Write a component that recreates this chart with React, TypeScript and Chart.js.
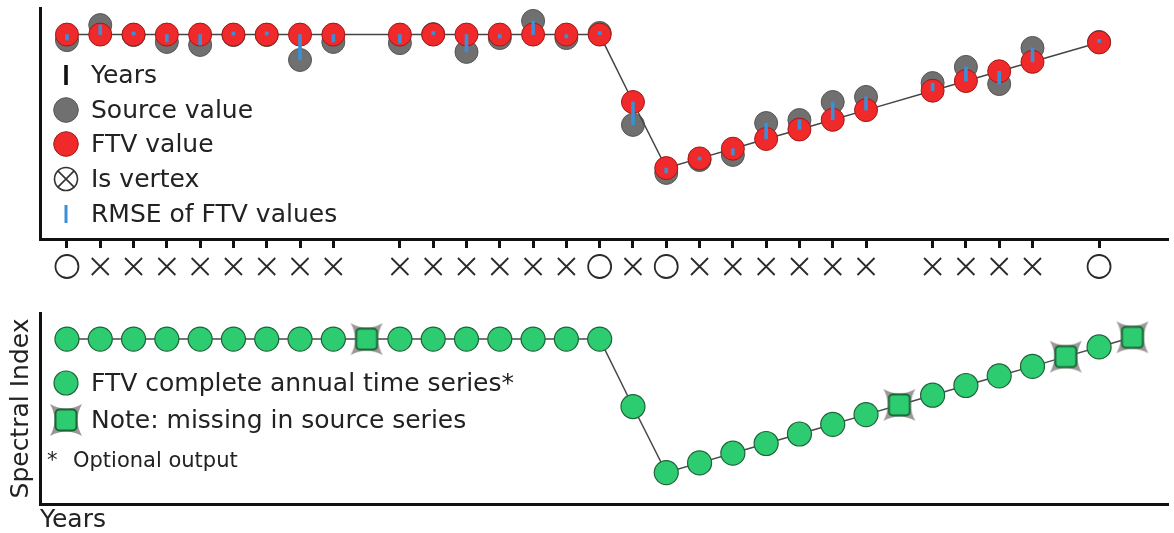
import React, { useEffect, useRef } from "react";
import { Chart, registerables } from "chart.js";

Chart.register(...registerables);

// ---------- data ----------
const years = [
  1984, 1985, 1986, 1987, 1988, 1989, 1990, 1991, 1992, 1993, 1994,
  1995, 1996, 1997, 1998, 1999, 2000, 2001, 2002, 2003, 2004, 2005,
  2006, 2007, 2008, 2009, 2010, 2011, 2012, 2013, 2014, 2015, 2016,
];

// Source (observed) spectral index values; null = missing in source series
const sourceValues: (number | null)[] = [
  0.861, 0.926, 0.883, 0.853, 0.84, 0.883, 0.883, 0.775, 0.853, null, 0.848,
  0.887, 0.81, 0.87, 0.944, 0.87, 0.892, 0.494, 0.286, 0.342, 0.364, 0.502,
  0.515, 0.593, 0.615, null, 0.675, 0.745, 0.671, 0.827, null, 0.853, null,
];

// Fitted-to-vertex (FTV) values, complete annual series
const ftvValues = [
  0.885, 0.885, 0.885, 0.885, 0.885, 0.885, 0.885, 0.885, 0.885, 0.885, 0.885,
  0.885, 0.885, 0.885, 0.885, 0.885, 0.885, 0.593, 0.307, 0.349, 0.391, 0.433,
  0.474, 0.516, 0.558, 0.6, 0.642, 0.684, 0.726, 0.767, 0.809, 0.851, 0.893,
];

const vertexYears = [1984, 2000, 2002, 2015];

const X_MIN = 1983.19;
const X_MAX = 2017.07;
const TOP_Y_MIN = 0;
const TOP_Y_MAX = 1;
const BOT_Y_MIN = 0.171;
const BOT_Y_MAX = 0.998;

const FONT = "'DejaVu Sans', Verdana, sans-serif";
const RED = "#f02a2a";
const RED_EDGE = "#a01818";
const GRAY = "#707070";
const GRAY_EDGE = "#555555";
const BLUE = "#3a8fd6";
const GREEN = "#2ecc71";
const GREEN_EDGE = "#1d6438";
const AXIS = "#111111";
const TEXT = "#222222";

const sourceYears = years.filter((_, i) => sourceValues[i] !== null);

// ---------- marker helpers ----------
function makeMissingMarker(): HTMLCanvasElement {
  const c = document.createElement("canvas");
  c.width = 36;
  c.height = 36;
  const g = c.getContext("2d") as CanvasRenderingContext2D;
  const m = 18;
  g.fillStyle = "rgba(140,132,132,0.85)";
  g.beginPath();
  g.moveTo(m - 16, m - 16);
  g.quadraticCurveTo(m, m - 7, m + 16, m - 16);
  g.quadraticCurveTo(m + 7, m, m + 16, m + 16);
  g.quadraticCurveTo(m, m + 7, m - 16, m + 16);
  g.quadraticCurveTo(m - 7, m, m - 16, m - 16);
  g.closePath();
  g.fill();
  g.fillStyle = GREEN;
  g.strokeStyle = GREEN_EDGE;
  g.lineWidth = 2;
  g.beginPath();
  if ((g as any).roundRect) (g as any).roundRect(m - 10.5, m - 10.5, 21, 21, 4);
  else g.rect(m - 10.5, m - 10.5, 21, 21);
  g.fill();
  g.stroke();
  return c;
}

const vertexMarkerPlugin = {
  id: "vertexMarkers",
  afterDraw(chart: any) {
    const xs = chart.scales.x;
    const ctx: CanvasRenderingContext2D = chart.ctx;
    const y = chart.chartArea.bottom + 27.5;
    ctx.save();
    ctx.strokeStyle = "#2a2a2a";
    ctx.lineWidth = 1.8;
    years.forEach((yr, i) => {
      if (sourceValues[i] === null) return;
      const x = xs.getPixelForValue(yr);
      ctx.beginPath();
      if (vertexYears.includes(yr)) {
        ctx.arc(x, y, 11.5, 0, Math.PI * 2);
      } else {
        const h = 8.5;
        ctx.moveTo(x - h, y - h);
        ctx.lineTo(x + h, y + h);
        ctx.moveTo(x + h, y - h);
        ctx.lineTo(x - h, y + h);
      }
      ctx.stroke();
    });
    ctx.restore();
  },
};

const baseX = {
  type: "linear" as const,
  min: X_MIN,
  max: X_MAX,
  bounds: "data" as const,
  offset: false,
};

// ---------- component ----------
export default function App() {
  const topRef = useRef<HTMLCanvasElement>(null);
  const botRef = useRef<HTMLCanvasElement>(null);

  useEffect(() => {
    const srcTop = years
      .map((yr, i) => ({ x: yr, y: sourceValues[i] }))
      .filter((p) => p.y !== null);
    const ftvTop = years
      .map((yr, i) => ({ x: yr, y: ftvValues[i] }))
      .filter((_, i) => sourceValues[i] !== null);
    const rmse = years
      .map((yr, i) => ({ x: yr, y: [ftvValues[i], sourceValues[i]] }))
      .filter((_, i) => sourceValues[i] !== null);

    const top = new Chart(topRef.current as HTMLCanvasElement, {
      type: "line",
      data: {
        datasets: [
          {
            type: "bar",
            label: "RMSE of FTV values",
            data: rmse as any,
            backgroundColor: BLUE,
            borderWidth: 0,
            barThickness: 3,
            minBarLength: 3,
            grouped: false,
            order: 0,
            clip: false as any,
          } as any,
          {
            type: "line",
            label: "FTV value",
            data: ftvTop,
            borderColor: "#454545",
            borderWidth: 1.5,
            tension: 0,
            spanGaps: true,
            pointRadius: 11.5,
            pointBackgroundColor: RED,
            pointBorderColor: RED_EDGE,
            pointBorderWidth: 1,
            order: 1,
            clip: false as any,
          },
          {
            type: "line",
            label: "Source value",
            data: srcTop as any,
            showLine: false,
            pointRadius: 11.5,
            pointBackgroundColor: GRAY,
            pointBorderColor: GRAY_EDGE,
            pointBorderWidth: 1,
            order: 2,
            clip: false as any,
          },
        ],
      },
      options: {
        responsive: false,
        animation: false,
        events: [],
        layout: { autoPadding: false, padding: { top: 8, right: 6, left: 0, bottom: 0 } },
        plugins: { legend: { display: false }, tooltip: { enabled: false } },
        scales: {
          x: {
            ...baseX,
            afterBuildTicks: (axis: any) => {
              axis.ticks = sourceYears.map((v) => ({ value: v }));
            },
            afterFit: (s: any) => {
              s.height = 51;
            },
            ticks: { display: false },
            grid: {
              display: true,
              drawOnChartArea: false,
              drawTicks: true,
              tickLength: 9,
              tickWidth: 3,
              tickColor: AXIS,
              offset: false,
            },
            border: { display: true, width: 3, color: AXIS },
          },
          y: {
            type: "linear",
            min: TOP_Y_MIN,
            max: TOP_Y_MAX,
            afterFit: (s: any) => {
              s.width = 40;
            },
            ticks: { display: false },
            grid: { display: false },
            border: { display: true, width: 3, color: AXIS },
          },
        } as any,
      },
      plugins: [vertexMarkerPlugin],
    });

    const missingMarker = makeMissingMarker();
    const ftvAll = years.map((yr, i) => ({ x: yr, y: ftvValues[i] }));

    const bot = new Chart(botRef.current as HTMLCanvasElement, {
      type: "line",
      data: {
        datasets: [
          {
            label: "FTV complete annual time series*",
            data: ftvAll,
            borderColor: "#4a4a4a",
            borderWidth: 1.5,
            tension: 0,
            pointRadius: 12,
            pointBackgroundColor: GREEN,
            pointBorderColor: GREEN_EDGE,
            pointBorderWidth: 1.2,
            pointStyle: ((ctx: any) =>
              sourceValues[ctx.dataIndex] === null ? missingMarker : "circle") as any,
            clip: false as any,
          },
        ],
      },
      options: {
        responsive: false,
        animation: false,
        events: [],
        layout: { autoPadding: false, padding: { top: 23, right: 6, left: 0, bottom: 0 } },
        plugins: { legend: { display: false }, tooltip: { enabled: false } },
        scales: {
          x: {
            ...baseX,
            afterFit: (s: any) => {
              s.height = 29;
            },
            ticks: { display: false },
            grid: { display: false },
            border: { display: true, width: 3, color: AXIS },
            title: {
              display: true,
              text: "Years",
              align: "start",
              color: TEXT,
              font: { family: FONT, size: 25, lineHeight: 1 },
              padding: { top: 0, bottom: 0 },
            },
          },
          y: {
            type: "linear",
            min: BOT_Y_MIN,
            max: BOT_Y_MAX,
            afterFit: (s: any) => {
              s.width = 40;
            },
            ticks: { display: false },
            grid: { display: false },
            border: { display: true, width: 3, color: AXIS },
            title: {
              display: true,
              text: "Spectral Index",
              color: TEXT,
              font: { family: FONT, size: 25, lineHeight: 1 },
              padding: { top: 9, bottom: 0 },
            },
          },
        } as any,
      },
    });

    return () => {
      top.destroy();
      bot.destroy();
    };
  }, []);

  const textStyle = (cy: number, size = 25): React.CSSProperties => {
    const lh = size + 5;
    const base = lh / 2 - (size * 1.164) / 2 + size * 0.928;
    const capCenter = base - (size * 0.729) / 2;
    return {
      position: "absolute",
      left: 91,
      top: cy - capCenter,
      fontSize: size,
      lineHeight: `${lh}px`,
      color: TEXT,
      whiteSpace: "pre",
    };
  };
  const symStyle = (cy: number): React.CSSProperties => ({
    position: "absolute",
    left: 46,
    top: cy - 20,
    width: 40,
    height: 40,
  });

  const topRows = [75, 109.5, 144, 178.8, 213.5];
  const botRows = [382.5, 419.5, 460];

  return (
    <div
      style={{
        position: "fixed",
        left: 0,
        top: 0,
        width: 1174,
        height: 533,
        background: "#ffffff",
        fontFamily: FONT,
        overflow: "hidden",
      }}
    >
      <canvas
        ref={topRef}
        width={1174}
        height={290}
        style={{ position: "absolute", left: 0, top: 0, width: 1174, height: 290 }}
      />
      <canvas
        ref={botRef}
        width={1174}
        height={243}
        style={{ position: "absolute", left: 0, top: 290, width: 1174, height: 243 }}
      />

      {/* top legend */}
      <svg style={symStyle(topRows[0])} viewBox="0 0 40 40">
        <rect x={18.2} y={10} width={3.6} height={20} fill={AXIS} />
      </svg>
      <div style={textStyle(topRows[0])}>Years</div>

      <svg style={symStyle(topRows[1])} viewBox="0 0 40 40">
        <circle cx={20} cy={20} r={12.3} fill={GRAY} stroke={GRAY_EDGE} strokeWidth={1} />
      </svg>
      <div style={textStyle(topRows[1])}>Source value</div>

      <svg style={symStyle(topRows[2])} viewBox="0 0 40 40">
        <circle cx={20} cy={20} r={12.3} fill={RED} stroke={RED_EDGE} strokeWidth={1} />
      </svg>
      <div style={textStyle(topRows[2])}>FTV value</div>

      <svg style={symStyle(topRows[3])} viewBox="0 0 40 40">
        <circle cx={20} cy={20} r={11.5} fill="none" stroke="#333" strokeWidth={1.6} />
        <path d="M 11.9 11.9 L 28.1 28.1 M 28.1 11.9 L 11.9 28.1" stroke="#333" strokeWidth={1.6} />
      </svg>
      <div style={textStyle(topRows[3])}>Is vertex</div>

      <svg style={symStyle(topRows[4])} viewBox="0 0 40 40">
        <rect x={18.5} y={11} width={3} height={18} fill={BLUE} />
      </svg>
      <div style={textStyle(topRows[4])}>RMSE of FTV values</div>

      {/* bottom legend */}
      <svg style={symStyle(botRows[0])} viewBox="0 0 40 40">
        <circle cx={20} cy={20} r={12} fill={GREEN} stroke={GREEN_EDGE} strokeWidth={1.2} />
      </svg>
      <div style={textStyle(botRows[0])}>FTV complete annual time series*</div>

      <svg style={symStyle(botRows[1])} viewBox="0 0 40 40">
        <path
          d="M 4 4 Q 20 13 36 4 Q 27 20 36 36 Q 20 27 4 36 Q 13 20 4 4 Z"
          fill="rgba(140,132,132,0.85)"
        />
        <rect x={9.5} y={9.5} width={21} height={21} rx={4} fill={GREEN} stroke={GREEN_EDGE} strokeWidth={2} />
      </svg>
      <div style={textStyle(botRows[1])}>Note: missing in source series</div>

      <div style={{ ...textStyle(botRows[2], 21), left: 47 }}>
        <span style={{ display: "inline-block", width: 26 }}>* </span>Optional output
      </div>
    </div>
  );
}
